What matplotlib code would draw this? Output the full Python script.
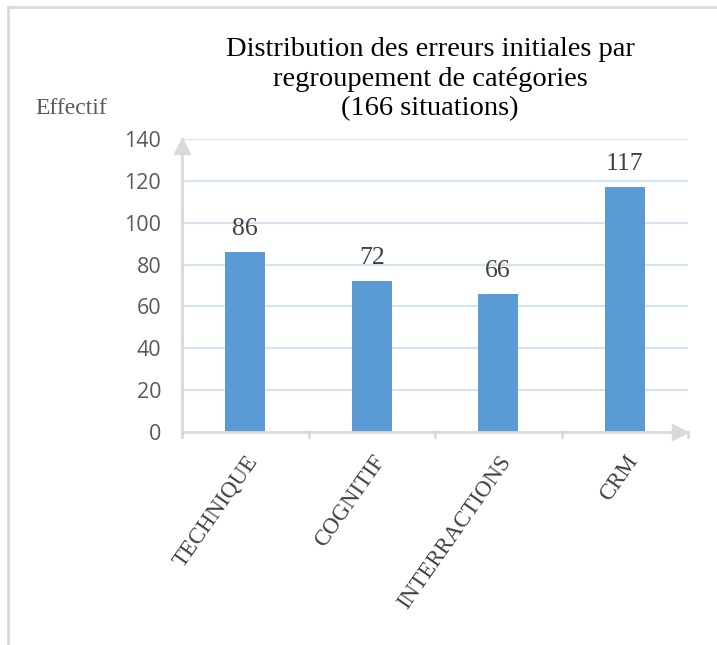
import matplotlib.pyplot as plt
from matplotlib.lines import Line2D

# Data
categories = ["TECHNIQUE", "COGNITIF", "INTERRACTIONS", "CRM"]
values = [86, 72, 66, 117]
yticks = [0, 20, 40, 60, 80, 100, 120, 140]
title_lines = ["Distribution des erreurs initiales par",
               "regroupement de catégories",
               "(166 situations)"]

serif = ["Liberation Serif", "DejaVu Serif"]
sans = ["Open Sans", "DejaVu Sans"]

fig = plt.figure(figsize=(7.17, 6.45), dpi=100)
ax = fig.add_axes([182 / 717, 1 - 432 / 645, (688 - 182) / 717, (432 - 139) / 645])

x = list(range(len(categories)))
ax.bar(x, values, width=0.32, color="#5B9BD5", zorder=3)
for xi, v in zip(x, values):
    ax.text(xi, v + 11, str(v), ha="center", va="center", fontsize=18.5,
            family=serif, color="#404040")

ax.set_xlim(-0.5, len(categories) - 0.5)
ax.set_ylim(0, 140)
ax.set_yticks(yticks)
ax.set_yticklabels([str(t) for t in yticks], fontsize=15.5, family=sans, color="#595959")
ax.tick_params(axis="y", length=0, pad=15)

# gridlines
for t in yticks[1:]:
    ax.axhline(t, color="#D2E3F4", lw=1.5, zorder=1)

# category labels
ax.set_xticks(x)
ax.set_xticklabels(categories, rotation=55, ha="right", rotation_mode="anchor",
                   fontsize=16.5, family=serif, color="#404040")
ax.tick_params(axis="x", length=0, pad=14)
# boundary ticks
for b in [-0.5, 0.5, 1.5, 2.5, 3.5]:
    ax.plot([b, b], [0, -0.018], transform=ax.get_xaxis_transform(),
            color="#D9D9D9", lw=2, clip_on=False, zorder=4)

for s in ["top", "right"]:
    ax.spines[s].set_visible(False)
for s in ["left", "bottom"]:
    ax.spines[s].set_color("#D9D9D9")
    ax.spines[s].set_linewidth(2)
    ax.spines[s].set_zorder(4)
ax.spines["left"].set_bounds(0, 140)

# arrow heads
ax.plot([0], [0.975], marker="^", markersize=11, color="#D9D9D9",
        transform=ax.transAxes, clip_on=False, zorder=5)
ax.plot([0.985], [0], marker=">", markersize=11, color="#D9D9D9",
        transform=ax.transAxes, clip_on=False, zorder=5)

for line, ypix in zip(title_lines, [49, 80, 109]):
    fig.text(430 / 717, 1 - ypix / 645, line, ha="center", va="center",
             fontsize=20.5, family=serif, color="black")
fig.text(35 / 717, 1 - 109 / 645, "Effectif", ha="left", va="center",
         fontsize=17, family=serif, color="#595959")

# frame of the picture
fig.add_artist(Line2D([8 / 717, 1], [1 - 7 / 645, 1 - 7 / 645], color="#D9D9D9", lw=2))
fig.add_artist(Line2D([8 / 717, 8 / 717], [0, 1 - 7 / 645], color="#D9D9D9", lw=2))

fig.savefig("out.png", dpi=100)
